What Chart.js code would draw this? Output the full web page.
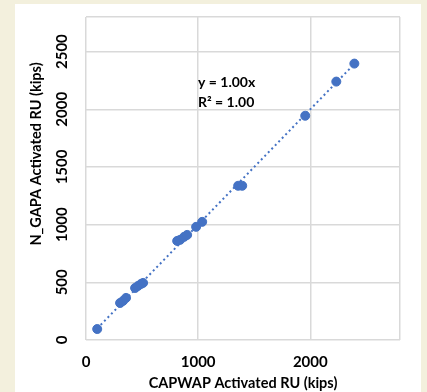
<!DOCTYPE html>
<html>
<head>
<meta charset="utf-8">
<script src="https://cdn.jsdelivr.net/npm/chart.js@4.4.1/dist/chart.umd.min.js"></script>
<style>
html,body{margin:0;padding:0;background:#f3f0dd;}
#wrap{position:absolute;left:0;top:0;width:427px;height:392px;}
</style>
</head>
<body>
<div id="wrap"><canvas id="c" width="427" height="392"></canvas></div>
<script>
// Data
const capwapRU = [100, 304, 330, 357, 438, 464, 491, 509, 813, 839, 875, 902, 982, 1036, 1357, 1393, 1955, 2232, 2393];
const ngapaRU  = [ 95, 321, 339, 365, 451, 469, 486, 495, 859, 868, 894, 911, 981, 1024, 1337, 1337, 1944, 2240, 2396];
const trendSlope = 1.00;
const equationLines = ['y = 1.00x', 'R\u00B2 = 1.00'];
const xTitle = 'CAPWAP Activated RU (kips)';
const yTitle = 'N_GAPA Activated RU (kips)';
const axisMax = 2800;
const xTickValues = [0, 1000, 2000];
const yTickValues = [0, 500, 1000, 1500, 2000, 2500];

const points = capwapRU.map((x, i) => ({x: x, y: ngapaRU[i]}));
const xMin = Math.min(...capwapRU), xMax = Math.max(...capwapRU);
const trend = [{x: xMin, y: trendSlope * xMin}, {x: xMax, y: trendSlope * xMax}];

const BLUE = '#4472c4';
const GRID = '#d9d9d9';
const FONT = 'Lato';

const decor = {
  id: 'decor',
  beforeDraw(chart) {
    const ctx = chart.ctx;
    ctx.save();
    ctx.fillStyle = '#f3f0dd';
    ctx.fillRect(0, 0, chart.width, chart.height);
    ctx.fillStyle = '#ffffff';
    ctx.fillRect(15, 4, 406, 388);
    ctx.restore();
  },
  afterDraw(chart) {
    const ctx = chart.ctx;
    const ys = chart.scales.y;
    ctx.save();
    ctx.fillStyle = '#000';
    ctx.font = 'bold 15px ' + FONT;
    ctx.textAlign = 'center';
    ctx.textBaseline = 'middle';
    yTickValues.forEach(v => {
      const py = ys.getPixelForValue(v);
      ctx.save();
      ctx.translate(62, py);
      ctx.rotate(-Math.PI / 2);
      ctx.fillText(String(v), 0, 0);
      ctx.restore();
    });
    ctx.font = 'bold 14.5px ' + FONT;
    ctx.save();
    ctx.translate(36, 154);
    ctx.rotate(-Math.PI / 2);
    ctx.fillText(yTitle, 0, 0);
    ctx.restore();
    ctx.font = 'bold 14px ' + FONT;
    ctx.textAlign = 'left';
    ctx.fillText(equationLines[0], 198, 82);
    ctx.fillText(equationLines[1], 198, 102);
    ctx.restore();
  }
};

new Chart(document.getElementById('c'), {
  type: 'scatter',
  data: {
    datasets: [
      {
        label: 'trend',
        type: 'line',
        data: trend,
        borderColor: BLUE,
        borderWidth: 2,
        borderDash: [2, 3],
        pointRadius: 0,
        fill: false,
        order: 2
      },
      {
        label: 'data',
        data: points,
        backgroundColor: BLUE,
        borderColor: BLUE,
        pointRadius: 4.5,
        pointHoverRadius: 4.5,
        order: 1
      }
    ]
  },
  options: {
    responsive: false,
    animation: false,
    devicePixelRatio: 1,
    layout: {padding: {left: 0, top: 17, right: 27, bottom: 0}},
    plugins: {legend: {display: false}, tooltip: {enabled: false}},
    scales: {
      x: {
        type: 'linear',
        min: 0, max: axisMax,
        grid: {color: GRID, lineWidth: 1.5, drawTicks: false},
        border: {display: false},
        afterBuildTicks: s => { s.ticks = xTickValues.concat([axisMax]).map(v => ({value: v})); },
        ticks: {
          autoSkip: false,
          padding: 13,
          color: '#000',
          font: {family: FONT, size: 15, weight: 'bold'},
          maxRotation: 0,
          callback: v => (v >= axisMax ? '' : String(v))
        },
        title: {
          display: true, text: xTitle, color: '#000',
          font: {family: FONT, size: 14.5, weight: 'bold'},
          padding: {top: 0, bottom: 0}
        },
        afterFit: s => { s.height = 52; }
      },
      y: {
        type: 'linear',
        min: 0, max: axisMax,
        grid: {color: GRID, lineWidth: 1.5, drawTicks: false},
        border: {display: false},
        afterBuildTicks: s => { s.ticks = yTickValues.concat([axisMax]).map(v => ({value: v})); },
        ticks: {display: false, autoSkip: false},
        afterFit: s => { s.width = 86; }
      }
    }
  },
  plugins: [decor]
});
</script>
</body>
</html>
